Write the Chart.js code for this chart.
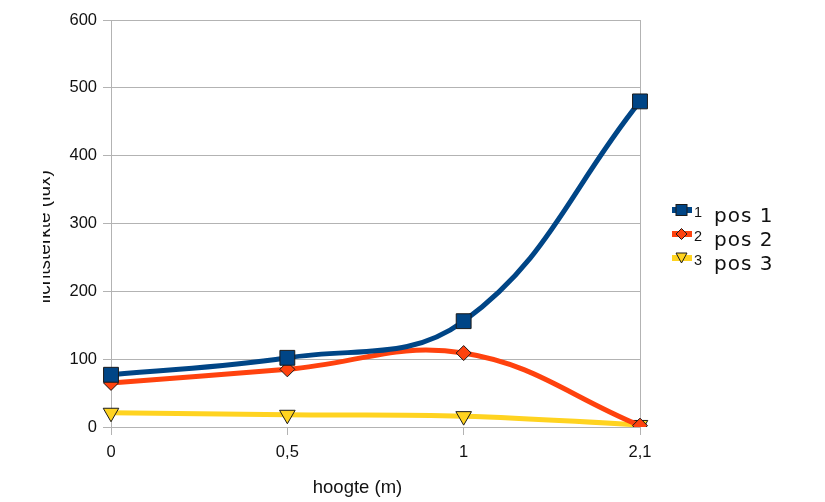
<!DOCTYPE html>
<html>
<head>
<meta charset="utf-8">
<script src="https://cdn.jsdelivr.net/npm/chart.js@4/dist/chart.umd.min.js"></script>
<style>
  html, body { margin: 0; padding: 0; background: #fff; }
  #wrap { position: relative; width: 825px; height: 502px; }
  #c { position: absolute; left: 0; top: 0; }
  .mk { position: absolute; left: 670px; }
  .num { position: absolute; left: 694px; font-family: "Liberation Sans", Arial, sans-serif; font-size: 14.5px; line-height: 16px; color: #111; white-space: nowrap; }
  .lab { position: absolute; left: 714px; font-family: "DejaVu Sans", sans-serif; font-size: 20px; line-height: 20px; letter-spacing: 1px; color: #111; white-space: nowrap; }
</style>
</head>
<body>
<div id="wrap">
  <canvas id="c" width="825" height="502"></canvas>
</div>
<script>
const categories = ["0", "0,5", "1", "2,1"];
const pos1 = [77, 102, 156, 480];
const pos2 = [65, 85, 109, 2];
const pos3 = [21, 18, 16, 3];
const seriesNames = ["pos 1", "pos 2", "pos 3"];
const seriesNums = ["1", "2", "3"];
const yTicks = [0, 100, 200, 300, 400, 500, 600];
const xTitle = "hoogte (m)";
const yTitle = "lichtsterkte (lux)";

const colors = ["#004586", "#ff420e", "#ffd320"];
const grid = "#b3b3b3";
const NB = "\u00a0";

const ds = [
  { label: seriesNames[0], data: pos1, borderColor: colors[0], backgroundColor: colors[0],
    pointStyle: 'rect', pointRadius: 10.5, order: 1 },
  { label: seriesNames[1], data: pos2, borderColor: colors[1], backgroundColor: colors[1],
    pointStyle: 'rectRot', pointRadius: 7.5, order: 2 },
  { label: seriesNames[2], data: pos3, borderColor: colors[2], backgroundColor: colors[2],
    pointStyle: 'triangle', pointRotation: 180, pointRadius: 9, order: 3 }
].map(d => Object.assign({ borderWidth: 5, tension: 0.4, fill: false, pointBorderColor: '#1a1a1a',
                            pointBorderWidth: 1, pointHoverRadius: d.pointRadius }, d));

// clip the left part of the y-axis title, as in the reference
const clipYTitle = {
  id: 'clipYTitle',
  beforeDraw(chart) {
    const s = chart.scales.y;
    if (s && !s._clipPatched) {
      const orig = s.drawTitle.bind(s);
      s.drawTitle = function () {
        const ctx = chart.ctx;
        ctx.save();
        ctx.beginPath();
        ctx.rect(43, 0, chart.width, chart.height);
        ctx.clip();
        orig();
        ctx.restore();
      };
      s._clipPatched = true;
    }
  }
};

const font = "'Liberation Sans', Arial, sans-serif";

new Chart(document.getElementById('c'), {
  type: 'line',
  data: { labels: categories, datasets: ds },
  plugins: [clipYTitle],
  options: {
    responsive: false,
    animation: false,
    events: [],
    layout: { padding: { left: 0, right: 185, top: 20, bottom: 0 } },
    plugins: { legend: { display: false }, tooltip: { enabled: false } },
    scales: {
      x: {
        offset: false,
        afterFit: s => { s.height = 75; },
        grid: {
          color: c => (c.index === categories.length - 1 ? grid : 'rgba(0,0,0,0)'),
          tickColor: grid, tickLength: 8, lineWidth: 1
        },
        border: { display: false },
        ticks: { color: '#111', font: { family: font, size: 16.5 }, padding: 8, maxRotation: 0 },
        title: { display: true, text: xTitle + NB.repeat(7), color: '#111',
                 font: { family: font, size: 18.5 }, padding: { top: 0, bottom: 3 } }
      },
      y: {
        min: 0, max: 600,
        afterFit: s => { s.width = 111; },
        afterBuildTicks: s => { s.ticks = yTicks.map(v => ({ value: v })); },
        grid: { color: grid, tickColor: grid, tickLength: 8, lineWidth: 1 },
        border: { color: grid, width: 1 },
        ticks: { color: '#111', font: { family: font, size: 16.5 }, padding: 6 },
        title: { display: true, text: yTitle + NB.repeat(5), color: '#111',
                 font: { family: font, size: 19 }, padding: { top: 33, bottom: 0 } }
      }
    }
  }
});

// legend
const wrap = document.getElementById('wrap');
const centers = [210, 234, 258];
const markers = [
  '<rect x="6" y="5.5" width="11" height="11" fill="#004586" stroke="#1a1a1a" stroke-width="1"/>',
  '<polygon points="11.5,5.5 17,11 11.5,16.5 6,11" fill="#ff420e" stroke="#1a1a1a" stroke-width="1"/>',
  '<polygon points="6,6 17,6 11.5,16" fill="#ffd320" stroke="#1a1a1a" stroke-width="1"/>'
];
seriesNames.forEach((n, i) => {
  const c = centers[i];
  const m = document.createElement('div');
  m.className = 'mk';
  m.style.top = (c - 11) + 'px';
  m.innerHTML = '<svg width="24" height="22"><rect x="2" y="8" width="20" height="6" fill="' + colors[i] + '"/>' + markers[i] + '</svg>';
  wrap.appendChild(m);
  const num = document.createElement('span');
  num.className = 'num';
  num.style.top = (c - 6) + 'px';
  num.textContent = seriesNums[i];
  wrap.appendChild(num);
  const lab = document.createElement('span');
  lab.className = 'lab';
  lab.style.top = (c - 5) + 'px';
  lab.textContent = n;
  wrap.appendChild(lab);
});
</script>
</body>
</html>
